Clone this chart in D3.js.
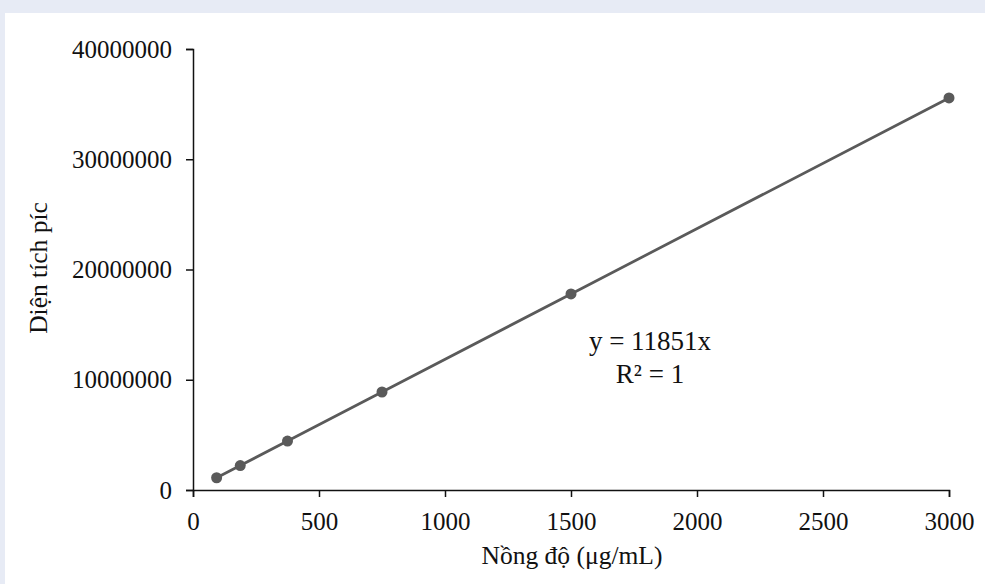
<!DOCTYPE html>
<html>
<head>
<meta charset="utf-8">
<script src="https://cdn.jsdelivr.net/npm/d3@7"></script>
<style>
  html, body { margin: 0; padding: 0; background: #e7ebf5; }
  svg { display: block; }
</style>
</head>
<body>
<script>
// Data
const concentrations = [93.75, 187.5, 375, 750, 1500, 3000];
const peakAreas = [1110000, 2220000, 4440000, 8890000, 17780000, 35560000];
const xTicks = [0, 500, 1000, 1500, 2000, 2500, 3000];
const yTicks = [0, 10000000, 20000000, 30000000, 40000000];
const xTitle = "Nồng độ (μg/mL)";
const yTitle = "Diện tích píc";
const equationLines = ["y = 11851x", "R² = 1"];

const W = 985, H = 584;
const svg = d3.select("body").append("svg").attr("width", W).attr("height", H);

svg.append("rect").attr("x", 0).attr("y", 0).attr("width", W).attr("height", H).attr("fill", "#e7ebf5");
svg.append("rect").attr("x", 5).attr("y", 13).attr("width", W - 5).attr("height", H - 13).attr("fill", "#ffffff");

const x = d3.scaleLinear().domain([0, 3000]).range([193, 949]);
const y = d3.scaleLinear().domain([0, 40000000]).range([490, 49]);

const font = "'Liberation Serif', 'Times New Roman', serif";
const axisColor = "#111111";
const textColor = "#111111";

// x axis
const gx = svg.append("g").attr("transform", `translate(0,${y(0)})`)
  .call(d3.axisBottom(x).tickValues(xTicks).tickSize(7).tickPadding(15).tickFormat(d3.format("d")));
// y axis
const gy = svg.append("g").attr("transform", `translate(${x(0)},0)`)
  .call(d3.axisLeft(y).tickValues(yTicks).tickSize(7).tickPadding(14).tickFormat(d3.format("d")));

[gx, gy].forEach(g => {
  g.select(".domain").attr("stroke", axisColor).attr("stroke-width", 1.5);
  g.selectAll(".tick line").attr("stroke", axisColor).attr("stroke-width", 1.5);
  g.selectAll(".tick text").attr("font-family", font).attr("font-size", 25).attr("fill", textColor);
});

// line
const seriesColor = "#5a5a5a";
const pts = concentrations.map((c, i) => [c, peakAreas[i]]);
svg.append("path")
  .datum(pts)
  .attr("fill", "none")
  .attr("stroke", seriesColor)
  .attr("stroke-width", 2.75)
  .attr("d", d3.line().x(d => x(d[0])).y(d => y(d[1])));

svg.append("g").selectAll("circle").data(pts).join("circle")
  .attr("cx", d => x(d[0])).attr("cy", d => y(d[1])).attr("r", 5.5)
  .attr("fill", seriesColor);

// equation
svg.append("g").selectAll("text").data(equationLines).join("text")
  .attr("x", 650).attr("y", (d, i) => 350 + i * 33)
  .attr("text-anchor", "middle")
  .attr("font-family", font).attr("font-size", 27).attr("fill", textColor)
  .text(d => d);

// axis titles
svg.append("text")
  .attr("x", 572).attr("y", 564)
  .attr("text-anchor", "middle")
  .attr("font-family", font).attr("font-size", 25.5).attr("fill", textColor)
  .text(xTitle);

svg.append("text")
  .attr("transform", `translate(47,268) rotate(-90)`)
  .attr("text-anchor", "middle")
  .attr("font-family", font).attr("font-size", 25.5).attr("fill", textColor)
  .text(yTitle);
</script>
</body>
</html>
